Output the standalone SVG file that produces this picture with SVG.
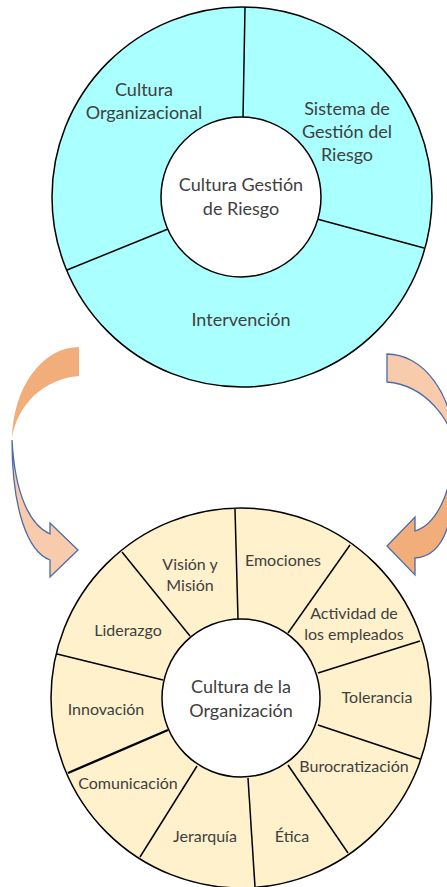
<svg xmlns="http://www.w3.org/2000/svg" width="447" height="887" viewBox="0 0 447 887">
  <style>
    .ring { stroke: #000; stroke-width: 1.5; }
    .top { fill: #AAFFFF; }
    .bot { fill: #FFF1CC; }
    .hub { fill: #fff; stroke: #000; stroke-width: 1.5; }
    .div { stroke: #000; stroke-width: 1.5; fill: none; }
    .t { font-family: Lato, "Open Sans", sans-serif; fill: #404040; text-anchor: middle; }
    .lg { font-size: 18px; }
    .sm { font-size: 16px; }
    .arrow-dark { fill: #F1AE7A; }
    .arrow-light { fill: #F8CBAD; }
    .edge { stroke: #4A6CA8; stroke-width: 1.3; stroke-linejoin: miter; }
  </style>

  <!-- Top ring -->
  <g id="top-ring">
    <circle class="ring top" cx="242" cy="197" r="190"/>
    <line class="div" x1="245" y1="7" x2="243" y2="118"/>
    <line class="div" x1="317" y1="219" x2="424" y2="248"/>
    <line class="div" x1="168" y1="229" x2="67" y2="270"/>
  </g>
  <g id="cultura-gestion-riesgo">
    <circle class="hub" cx="241" cy="197" r="80"/>
    <text class="t lg" x="241" y="191">Cultura Gestión</text>
    <text class="t lg" x="241" y="215">de Riesgo</text>
  </g>
  <g id="cultura-organizacional">
    <text class="t lg" x="144" y="96">Cultura</text>
    <text class="t lg" x="144" y="119">Organizacional</text>
  </g>
  <g id="sistema-gestion">
    <text class="t lg" x="347" y="115">Sistema de</text>
    <text class="t lg" x="347" y="138">Gestión del</text>
    <text class="t lg" x="347" y="161">Riesgo</text>
  </g>
  <g id="intervencion">
    <text class="t lg" x="241" y="326">Intervención</text>
  </g>

  <!-- Connectors: curved arrows -->
  <g id="connectors">
    <g id="arrow-left">
      <path class="arrow-dark" d="M79,347 A67,93 0 0 0 12,440 C14,415 35,380 79,376 Z"/>
      <path class="arrow-light edge" d="M12,440 C12,510 28,552 50,560 L50,577 L78,550 L50,523 L50,534 C30,525 15,495 12,440 Z"/>
    </g>
    <g id="arrow-right">
      <path class="arrow-light edge" d="M387,354 A67,93 0 0 1 454,447 C452,420 425,385 387,382 Z"/>
      <path class="arrow-dark edge" d="M454,447 C457,520 445,556 415,558 L415,575 L387,546 L415,517 L415,531 C435,525 452,495 454,447 Z"/>
    </g>
  </g>

  <!-- Bottom ring -->
  <g id="bottom-ring">
    <circle class="ring bot" cx="241" cy="698" r="190"/>
    <line class="div" x1="238" y1="619" x2="235" y2="509"/>
    <line class="div" x1="288" y1="633" x2="350" y2="545"/>
    <line class="div" x1="318" y1="673" x2="420" y2="641"/>
    <line class="div" x1="318" y1="725" x2="420" y2="759"/>
    <line class="div" x1="288" y1="765" x2="348" y2="853"/>
    <line class="div" x1="248" y1="778" x2="255" y2="887"/>
    <line class="div" x1="197" y1="766" x2="140" y2="857"/>
    <line class="div" x1="168" y1="730" x2="68" y2="773" style="stroke-width:2.4"/>
    <line class="div" x1="163" y1="680" x2="57" y2="654"/>
    <line class="div" x1="190" y1="636" x2="122" y2="552"/>
  </g>
  <g id="cultura-organizacion">
    <circle class="hub" cx="241" cy="698" r="79"/>
    <text class="t lg" x="241" y="693">Cultura de la</text>
    <text class="t lg" x="241" y="717">Organización</text>
  </g>
  <g id="vision-mision">
    <text class="t sm" x="190" y="570">Visión y</text>
    <text class="t sm" x="190" y="591">Misión</text>
  </g>
  <g id="emociones"><text class="t sm" x="283" y="566">Emociones</text></g>
  <g id="actividad">
    <text class="t sm" x="354" y="619">Actividad de</text>
    <text class="t sm" x="354" y="640">los empleados</text>
  </g>
  <g id="tolerancia"><text class="t sm" x="377" y="703">Tolerancia</text></g>
  <g id="burocratizacion"><text class="t sm" x="354" y="772">Burocratización</text></g>
  <g id="etica"><text class="t sm" x="292" y="842">Ética</text></g>
  <g id="jerarquia"><text class="t sm" x="205" y="842">Jerarquía</text></g>
  <g id="comunicacion"><text class="t sm" x="128" y="789">Comunicación</text></g>
  <g id="innovacion"><text class="t sm" x="106" y="715">Innovación</text></g>
  <g id="liderazgo"><text class="t sm" x="128" y="636">Liderazgo</text></g>
</svg>
